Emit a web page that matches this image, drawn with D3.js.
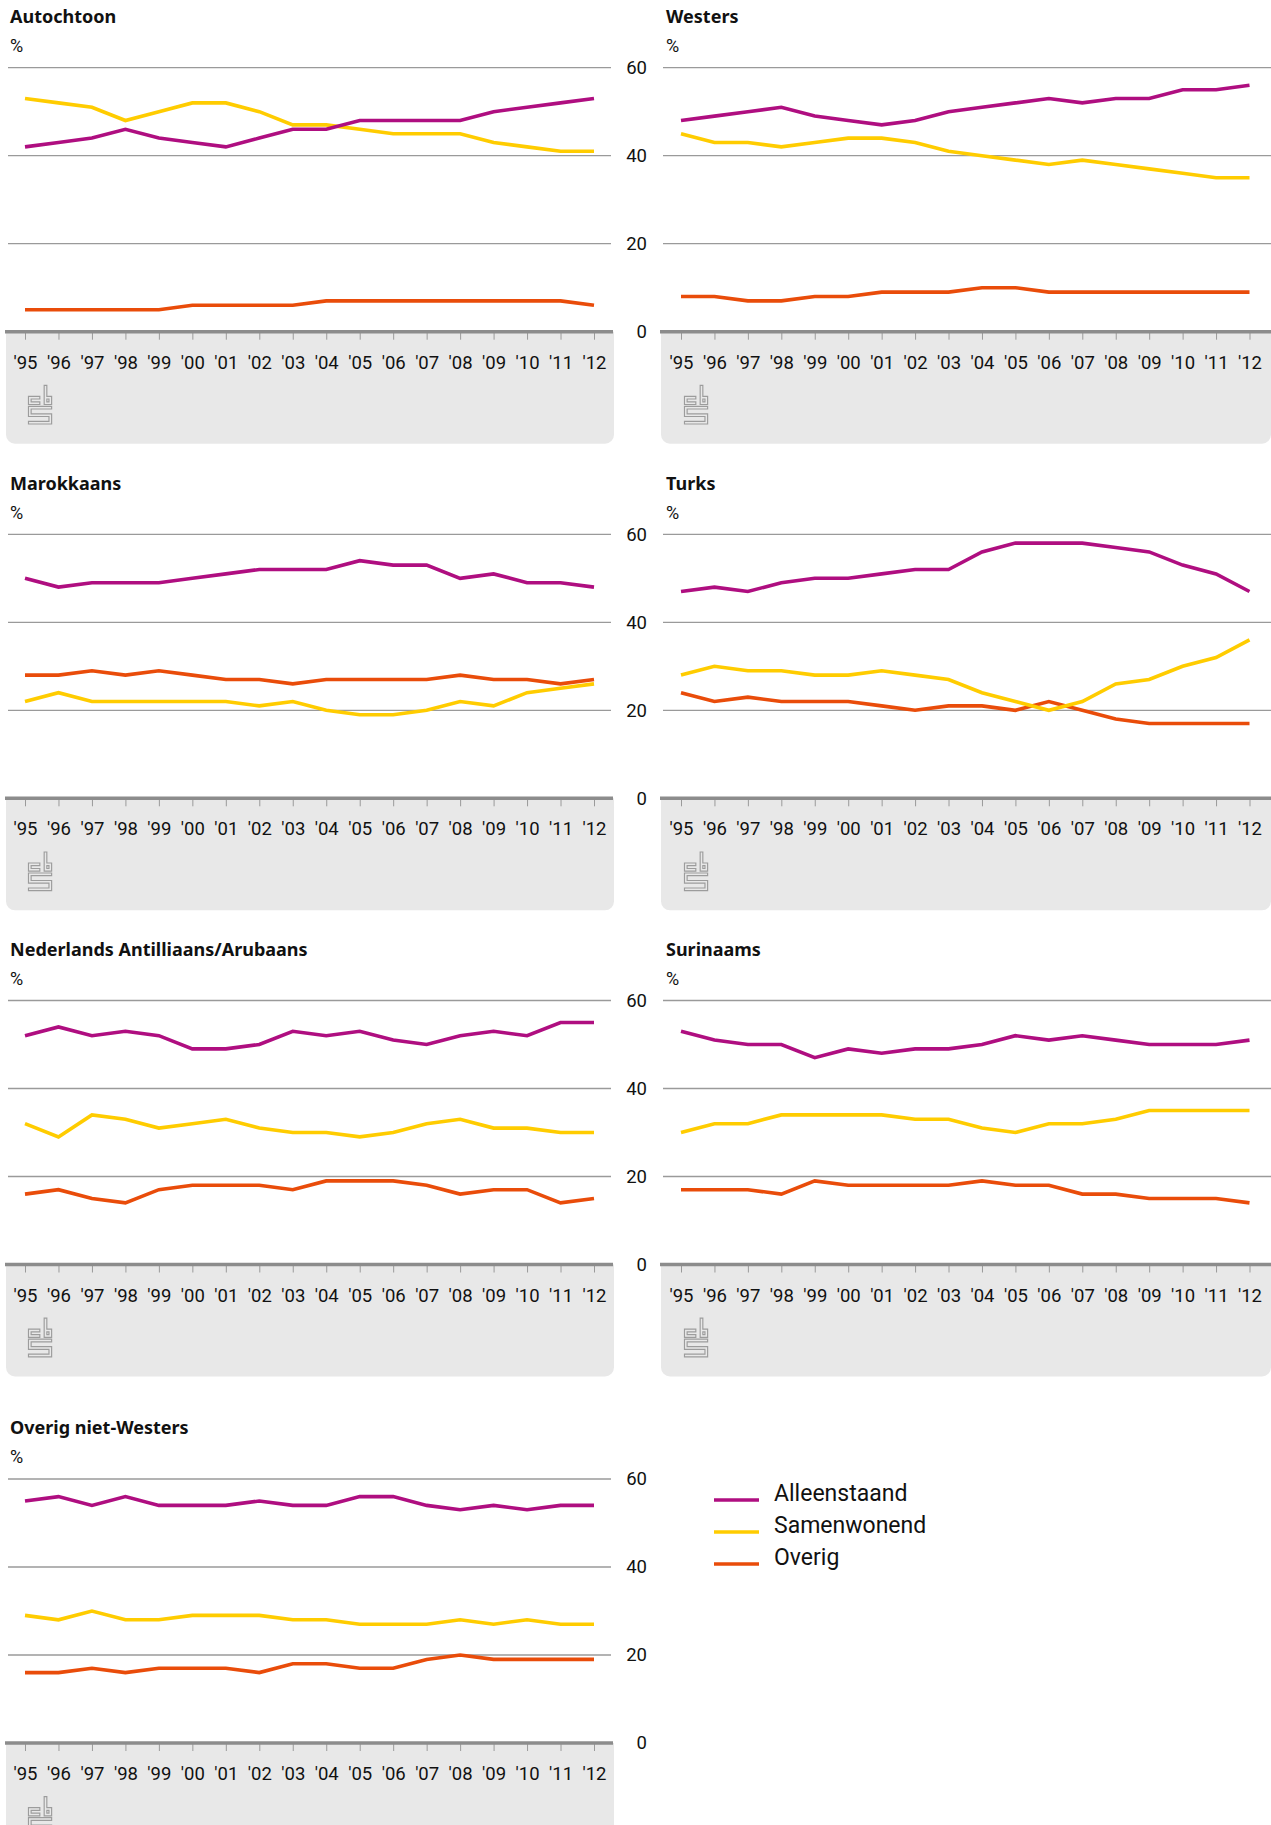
<!DOCTYPE html>
<html><head><meta charset="utf-8">
<script src="https://cdn.jsdelivr.net/npm/d3@7/dist/d3.min.js"></script>
<style>
html,body{margin:0;padding:0;background:#fff;}
svg{display:block;font-family:Roboto,"Noto Sans",sans-serif;}
</style></head>
<body>
<svg id="chart" width="1271" height="1825"></svg>
<script>
// ---------- DATA ----------
const years = ["'95","'96","'97","'98","'99","'00","'01","'02","'03","'04","'05","'06","'07","'08","'09","'10","'11","'12"];
const yTicks = [0, 20, 40, 60];
const seriesNames = ["Alleenstaand", "Samenwonend", "Overig"];
const panelTitles = ["Autochtoon", "Westers", "Marokkaans", "Turks", "Nederlands Antilliaans/Arubaans", "Surinaams", "Overig niet-Westers"];

const autochtoonAlleenstaand = [42,43,44,46,44,43,42,44,46,46,48,48,48,48,50,51,52,53];
const autochtoonSamenwonend  = [53,52,51,48,50,52,52,50,47,47,46,45,45,45,43,42,41,41];
const autochtoonOverig       = [5,5,5,5,5,6,6,6,6,7,7,7,7,7,7,7,7,6];

const westersAlleenstaand = [48,49,50,51,49,48,47,48,50,51,52,53,52,53,53,55,55,56];
const westersSamenwonend  = [45,43,43,42,43,44,44,43,41,40,39,38,39,38,37,36,35,35];
const westersOverig       = [8,8,7,7,8,8,9,9,9,10,10,9,9,9,9,9,9,9];

const marokkaansAlleenstaand = [50,48,49,49,49,50,51,52,52,52,54,53,53,50,51,49,49,48];
const marokkaansSamenwonend  = [22,24,22,22,22,22,22,21,22,20,19,19,20,22,21,24,25,26];
const marokkaansOverig       = [28,28,29,28,29,28,27,27,26,27,27,27,27,28,27,27,26,27];

const turksAlleenstaand = [47,48,47,49,50,50,51,52,52,56,58,58,58,57,56,53,51,47];
const turksSamenwonend  = [28,30,29,29,28,28,29,28,27,24,22,20,22,26,27,30,32,36];
const turksOverig       = [24,22,23,22,22,22,21,20,21,21,20,22,20,18,17,17,17,17];

const antilliaansAlleenstaand = [52,54,52,53,52,49,49,50,53,52,53,51,50,52,53,52,55,55];
const antilliaansSamenwonend  = [32,29,34,33,31,32,33,31,30,30,29,30,32,33,31,31,30,30];
const antilliaansOverig       = [16,17,15,14,17,18,18,18,17,19,19,19,18,16,17,17,14,15];

const surinaamsAlleenstaand = [53,51,50,50,47,49,48,49,49,50,52,51,52,51,50,50,50,51];
const surinaamsSamenwonend  = [30,32,32,34,34,34,34,33,33,31,30,32,32,33,35,35,35,35];
const surinaamsOverig       = [17,17,17,16,19,18,18,18,18,19,18,18,16,16,15,15,15,14];

const overigNWAlleenstaand = [55,56,54,56,54,54,54,55,54,54,56,56,54,53,54,53,54,54];
const overigNWSamenwonend  = [29,28,30,28,28,29,29,29,28,28,27,27,27,28,27,28,27,27];
const overigNWOverig       = [16,16,17,16,17,17,17,16,18,18,17,17,19,20,19,19,19,19];

// table built from the arrays above
const panelData = [
  [autochtoonAlleenstaand, autochtoonSamenwonend, autochtoonOverig],
  [westersAlleenstaand, westersSamenwonend, westersOverig],
  [marokkaansAlleenstaand, marokkaansSamenwonend, marokkaansOverig],
  [turksAlleenstaand, turksSamenwonend, turksOverig],
  [antilliaansAlleenstaand, antilliaansSamenwonend, antilliaansOverig],
  [surinaamsAlleenstaand, surinaamsSamenwonend, surinaamsOverig],
  [overigNWAlleenstaand, overigNWSamenwonend, overigNWOverig]
];

// ---------- STYLE / LAYOUT ----------
const colors = ["#af0e80", "#ffcc00", "#e94c0a"];
const drawOrder = [2, 1, 0];
const cols = [
  {gridX0: 8, gridX1: 611, axisX0: 5, axisX1: 613, bgX0: 6, bgX1: 614, tick0: 25, tick1: 594, textX: 10, labelX: 646},
  {gridX0: 663, gridX1: 1271, axisX0: 660, axisX1: 1271, bgX0: 661, bgX1: 1271, tick0: 681, tick1: 1249.5, textX: 666}
];
const rowTops = [67.7, 534.3, 1000.5, 1479];
const plotH = 264;
const bgColor = "#e8e8e8";
const titleFont = "'Noto Sans', Roboto, sans-serif";

const svg = d3.select("#chart");

panelTitles.forEach((title, i) => {
  const col = cols[i % 2];
  const top = rowTops[Math.floor(i / 2)];
  const x = d3.scalePoint().domain(years).range([col.tick0, col.tick1]);
  const y = d3.scaleLinear().domain([0, 60]).range([top + plotH, top]);
  const y0 = y(0);
  const g = svg.append("g");

  // grey footer background
  const bgBottom = y0 + 112;
  g.append("rect").attr("x", col.bgX0).attr("y", y0).attr("width", col.bgX1 - col.bgX0)
    .attr("height", bgBottom - y0).attr("rx", 9).attr("fill", bgColor);
  g.append("rect").attr("x", col.bgX0).attr("y", y0).attr("width", col.bgX1 - col.bgX0)
    .attr("height", 30).attr("fill", bgColor);

  // CBS logo (hollow outlined strokes)
  const lg = g.append("g").attr("transform", `translate(${col.textX + 18},${y0 + 54.5})`);
  const logoPaths = [
    "M10.5,11.5 L1.8,11.5 L1.8,17 L10.5,17",
    "M17.5,0.5 L17.5,17 L22.3,17 L22.3,11.5 L17.5,11.5",
    "M22.3,21.5 L1.8,21.5 L1.8,29 L22.3,29 L22.3,36.5 L1.8,36.5"
  ];
  logoPaths.forEach(p => {
    lg.append("path").attr("d", p).attr("fill", "none").attr("stroke", "#9c9c9c")
      .attr("stroke-width", 3.8).attr("stroke-linejoin", "miter").attr("stroke-linecap", "square");
  });
  logoPaths.forEach(p => {
    lg.append("path").attr("d", p).attr("fill", "none").attr("stroke", bgColor)
      .attr("stroke-width", 1.5).attr("stroke-linejoin", "miter").attr("stroke-linecap", "square");
  });

  // title and unit
  g.append("text").attr("x", col.textX).attr("y", top - 51).attr("dy", "0.35em")
    .attr("font-family", titleFont).attr("font-size", 18).attr("font-weight", "bold")
    .attr("fill", "#111").text(title);
  g.append("text").attr("x", col.textX).attr("y", top - 22).attr("dy", "0.35em")
    .attr("font-size", 18).attr("fill", "#111").text("%");

  // gridlines
  g.selectAll(".grid").data(yTicks.filter(t => t > 0)).enter().append("line")
    .attr("x1", col.gridX0).attr("x2", col.gridX1)
    .attr("y1", d => y(d)).attr("y2", d => y(d))
    .attr("stroke", "#9a9a9a").attr("stroke-width", 1.3);

  // x axis
  const xAxis = d3.axisBottom(x).tickSize(8).tickPadding(16);
  const ax = g.append("g").attr("transform", `translate(0,${y0})`).call(xAxis);
  ax.select(".domain").remove();
  ax.selectAll(".tick line").attr("stroke", "#9a9a9a").attr("stroke-width", 1);
  ax.selectAll(".tick text").attr("font-size", 18.5).attr("font-family", "Roboto, sans-serif").attr("fill", "#111");
  g.append("line").attr("x1", col.axisX0).attr("x2", col.axisX1).attr("y1", y0).attr("y2", y0)
    .attr("stroke", "#8c8c8c").attr("stroke-width", 3.6);

  // y labels (left column only, on the right side)
  if (col.labelX) {
    g.selectAll(".ylab").data(yTicks).enter().append("text")
      .attr("x", col.labelX + 1).attr("y", d => y(d)).attr("dy", "0.35em")
      .attr("text-anchor", "end").attr("font-size", 18.5).attr("fill", "#111")
      .text(d => d);
  }

  // series lines
  const line = d3.line().x((d, k) => x(years[k])).y(d => y(d));
  drawOrder.forEach(s => {
    g.append("path").datum(panelData[i][s]).attr("d", line)
      .attr("fill", "none").attr("stroke", colors[s]).attr("stroke-width", 3.6);
  });
});

// legend
const legend = svg.append("g").attr("transform", "translate(714,1500)");
seriesNames.forEach((name, k) => {
  legend.append("line").attr("x1", 0).attr("x2", 45).attr("y1", k * 32).attr("y2", k * 32)
    .attr("stroke", colors[k]).attr("stroke-width", 3.6);
  legend.append("text").attr("x", 60).attr("y", k * 32 + 1).attr("font-size", 23)
    .attr("fill", "#111").text(name);
});
</script>
</body></html>
